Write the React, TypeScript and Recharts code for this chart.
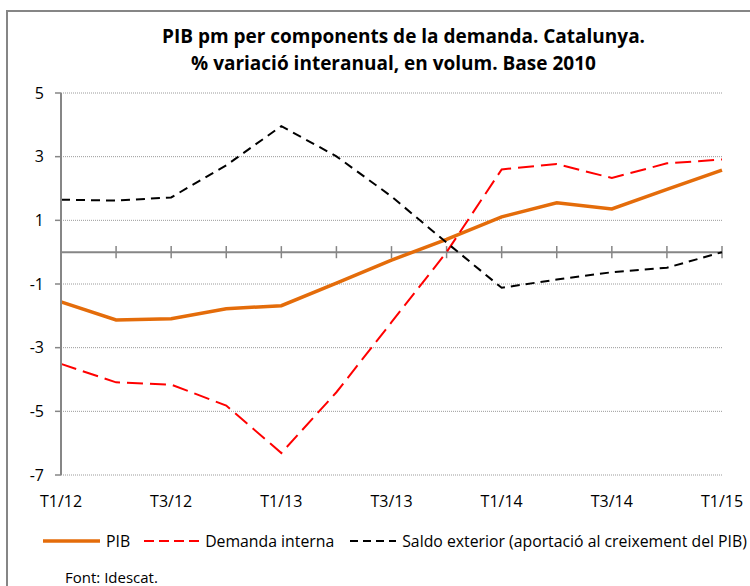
import React from 'react';
import { LineChart, Line, XAxis, YAxis, CartesianGrid, ReferenceLine } from 'recharts';

const categories = ['T1/12', 'T2/12', 'T3/12', 'T4/12', 'T1/13', 'T2/13', 'T3/13', 'T4/13', 'T1/14', 'T2/14', 'T3/14', 'T4/14', 'T1/15'];
const pib = [-1.56, -2.13, -2.09, -1.78, -1.68, -0.97, -0.25, 0.4, 1.11, 1.55, 1.36, 1.97, 2.58];
const demandaInterna = [-3.51, -4.09, -4.16, -4.82, -6.31, -4.4, -2.2, 0.0, 2.6, 2.77, 2.33, 2.79, 2.91];
const saldoExterior = [1.65, 1.62, 1.72, 2.73, 3.96, 3.01, 1.75, 0.3, -1.12, -0.86, -0.63, -0.49, 0.0];
const yTicks = [-7, -5, -3, -1, 1, 3, 5];

const titleLine1 = 'PIB pm per components de la demanda. Catalunya.';
const titleLine2 = '% variació interanual, en volum. Base 2010';
const sourceText = 'Font: Idescat.';

const series = [
  { key: 'pib', name: 'PIB', color: '#E46C0A', width: 3.5, dash: undefined as string | undefined, legendDash: undefined as string | undefined, iconW: 57 },
  { key: 'demanda', name: 'Demanda interna', color: '#FF0000', width: 2, dash: '16 7', legendDash: '10 5', iconW: 55 },
  { key: 'saldo', name: 'Saldo exterior (aportació al creixement del PIB)', color: '#000000', width: 2, dash: '9 6', legendDash: '8 5', iconW: 46 },
];

const data = categories.map((c, i) => ({
  cat: c,
  pib: pib[i],
  demanda: demandaInterna[i],
  saldo: saldoExterior[i],
}));

const FONT = '"Open Sans", sans-serif';
const AXIS_COLOR = '#868686';

export default function App() {
  return (
    <div style={{ position: 'absolute', left: 0, top: 0, width: 750, height: 586, overflow: 'hidden', background: '#fff', fontFamily: FONT }}>
      <div style={{ position: 'absolute', left: 6, top: 10, width: 800, height: 700, border: `2px solid ${AXIS_COLOR}`, boxSizing: 'border-box' }} />
      <div style={{ position: 'absolute', left: 0, top: 24, width: 807, textAlign: 'center', fontSize: 19, fontWeight: 700, lineHeight: '24px', color: '#000' }}>{titleLine1}</div>
      <div style={{ position: 'absolute', left: 0, top: 51, width: 787, textAlign: 'center', fontSize: 19, fontWeight: 700, lineHeight: '24px', color: '#000' }}>{titleLine2}</div>
      <div style={{ position: 'absolute', left: 0, top: 0 }}>
        <LineChart width={750} height={586} data={data} margin={{ top: 93, right: 28, bottom: 81, left: 0 }}>
          <CartesianGrid vertical={false} stroke="#9a9a9a" strokeDasharray="1 1" />
          <XAxis
            dataKey="cat"
            scale="point"
            padding={{ left: 0, right: 0 }}
            axisLine={false}
            tickLine={false}
            interval={1}
            height={30}
            tickSize={6}
            tickMargin={15}
            tick={{ fill: '#000', fontSize: 16, fontFamily: FONT }}
          />
          <YAxis
            domain={[-7, 5]}
            ticks={yTicks}
            width={61}
            axisLine={{ stroke: AXIS_COLOR, strokeWidth: 2 }}
            tickLine={{ stroke: AXIS_COLOR, strokeWidth: 1.5 }}
            tickSize={6}
            tickMargin={11}
            tick={{ fill: '#000', fontSize: 16, fontFamily: FONT }}
            interval={0}
          />
          <ReferenceLine y={0} stroke={AXIS_COLOR} strokeWidth={2} />
          {categories.map((c) => (
            <ReferenceLine key={c} segment={[{ x: c, y: -0.19 }, { x: c, y: 0.19 }]} stroke={AXIS_COLOR} strokeWidth={1.5} />
          ))}
          {series.map((s) => (
            <Line
              key={s.key}
              dataKey={s.key}
              name={s.name}
              type="linear"
              stroke={s.color}
              strokeWidth={s.width}
              strokeDasharray={s.dash}
              dot={false}
              activeDot={false}
              isAnimationActive={false}
            />
          ))}
        </LineChart>
      </div>
      <div style={{ position: 'absolute', left: 43, top: 530, display: 'flex', alignItems: 'center', fontSize: 15.8, lineHeight: '22px', color: '#000', whiteSpace: 'nowrap' }}>
        {series.map((s, i) => (
          <div key={s.key} style={{ display: 'flex', alignItems: 'center', marginRight: i === 0 ? 14 : 16 }}>
            <svg width={s.iconW} height={10} style={{ marginRight: 6 }}>
              <line x1={0} y1={5} x2={s.iconW} y2={5} stroke={s.color} strokeWidth={s.width} strokeDasharray={s.legendDash} />
            </svg>
            <span>{s.name}</span>
          </div>
        ))}
      </div>
      <div style={{ position: 'absolute', left: 65, top: 569, fontSize: 15, lineHeight: '17px', color: '#000' }}>{sourceText}</div>
    </div>
  );
}
